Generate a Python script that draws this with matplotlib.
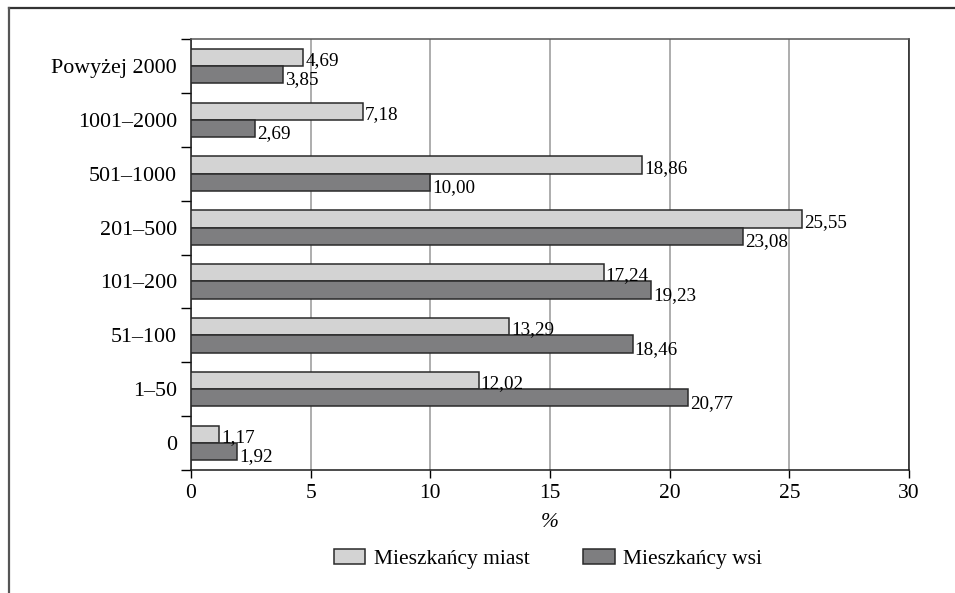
import matplotlib
matplotlib.use("Agg")
import matplotlib.pyplot as plt
import numpy as np
from matplotlib.patches import Patch

plt.rcParams.update({
    "font.family": "Liberation Serif", "font.size": 15,
})

LIGHT, DARK, EDGE, GRID = "#d3d3d3", "#7e7e80", "#2a2a2a", "#a0a0a0"

categories = ["Powyżej 2000", "1001–2000", "501–1000", "201–500",
              "101–200", "51–100", "1–50", "0"]
miasto = [4.69, 7.18, 18.86, 25.55, 17.24, 13.29, 12.02, 1.17]
wies = [3.85, 2.69, 10.00, 23.08, 19.23, 18.46, 20.77, 1.92]
series_labels = ["Mieszkańcy miast", "Mieszkańcy wsi"]


def pl(v):
    return f"{v:.2f}".replace(".", ",")


fig = plt.figure(figsize=(9.55, 5.93), dpi=100)
ax = fig.add_axes([0.2, 0.2074, 0.7518, 0.7268])

y = np.arange(len(categories))
h = 0.32
ax.barh(y - h / 2, miasto, h, color=LIGHT, edgecolor=EDGE, lw=1.1, zorder=3)
ax.barh(y + h / 2, wies, h, color=DARK, edgecolor=EDGE, lw=1.1, zorder=3)
for yi, a, b in zip(y, miasto, wies):
    ax.text(a + 0.08, yi - h / 2 + 0.06, pl(a), va="center", ha="left", fontsize=13.8)
    ax.text(b + 0.08, yi + h / 2 + 0.1, pl(b), va="center", ha="left", fontsize=13.8)

ax.set_xlim(0, 30)
ax.set_ylim(len(categories) - 0.5, -0.5)
ax.set_xticks(np.arange(0, 31, 5))
ax.set_yticks(np.arange(-0.5, len(categories), 1))
ax.set_yticklabels([])
ax.set_yticks(y, minor=True)
ax.set_yticklabels(categories, minor=True, fontsize=15.8)
ax.tick_params(axis="y", which="major", length=7, width=1, direction="out")
ax.tick_params(axis="y", which="minor", length=0, pad=10)
ax.tick_params(axis="x", length=6, width=1, direction="out", labelsize=15.5, pad=4)
ax.xaxis.grid(True, color=GRID, lw=1.2, zorder=0)
ax.set_axisbelow(True)
for s in ax.spines.values():
    s.set_color("#1a1a1a")
    s.set_linewidth(1.1)
ax.spines["top"].set_color("#555555")
ax.set_xlabel("%", fontstyle="italic", fontsize=15.5, labelpad=7)

handles = [Patch(facecolor=LIGHT, edgecolor=EDGE, lw=1.1),
           Patch(facecolor=DARK, edgecolor=EDGE, lw=1.1)]
fig.legend(handles, series_labels, loc="center", bbox_to_anchor=(0.574, 0.058),
           ncol=2, frameon=False, fontsize=15.5, handlelength=1.45,
           handleheight=0.7, columnspacing=2.5, handletextpad=0.4)

# cropped frame around the figure: top and left edge only
fig.add_artist(plt.Line2D([0.0094, 1.0], [0.9865, 0.9865], color="#333333", lw=1.6,
                          transform=fig.transFigure))
fig.add_artist(plt.Line2D([0.0094, 0.0094], [0.0, 0.9865], color="#555555", lw=1.6,
                          transform=fig.transFigure))

fig.savefig("out.png", dpi=100)
